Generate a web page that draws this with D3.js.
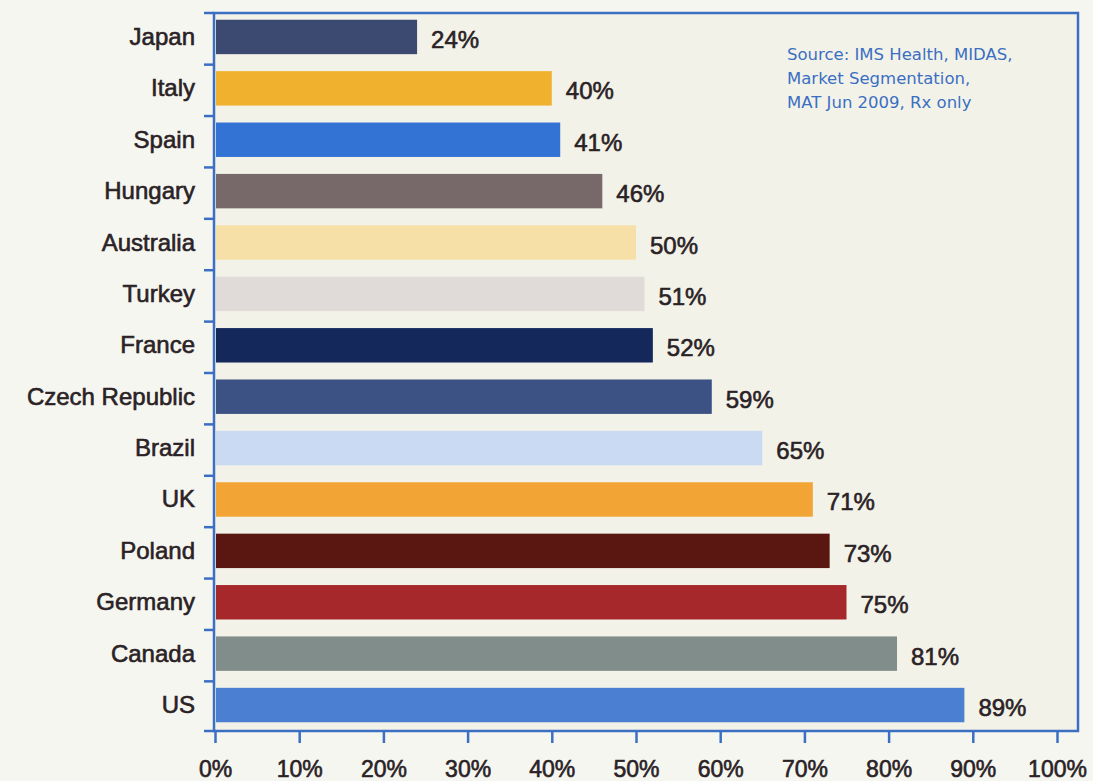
<!DOCTYPE html>
<html>
<head>
<meta charset="utf-8">
<script src="https://cdn.jsdelivr.net/npm/d3@7"></script>
<style>
  html, body { margin: 0; padding: 0; background: #f6f6f1; }
  svg { display: block; }
</style>
</head>
<body>
<svg id="chart" width="1093" height="781"></svg>
<script>
// ---- data ----
const countries = ["Japan","Italy","Spain","Hungary","Australia","Turkey","France",
  "Czech Republic","Brazil","UK","Poland","Germany","Canada","US"];
const values = [24,40,41,46,50,51,52,59,65,71,73,75,81,89];
const barColors = ["#3c4a72","#f0b22e","#3273d3","#77696a","#f6e0a8","#e0dbd8","#14285c",
  "#3c5285","#c9daf2","#f2a535","#5a1712","#a6282b","#808d8b","#4a7fd2"];
const xTicks = [0,10,20,30,40,50,60,70,80,90,100];
const sourceLines = ["Source: IMS Health, MIDAS,","Market Segmentation,","MAT Jun 2009, Rx only"];

// ---- layout ----
const svg = d3.select("#chart");
const frame = {left: 214, right: 1078, top: 13, bottom: 731};
const x = d3.scaleLinear().domain([0, 100]).range([215, 1057]);
const y = d3.scaleBand().domain(countries).range([11, 731]).paddingInner(0.33).paddingOuter(0.17);
const textColor = "#2a2225";
const blue = "#3c6fc4";
const labelFont = "'Liberation Sans', Arial, sans-serif";

function boldish(sel) {
  sel.attr("stroke", textColor).attr("stroke-width", 0.6).attr("paint-order", "stroke");
}

// plot background
svg.append("rect")
  .attr("x", frame.left).attr("y", frame.top)
  .attr("width", frame.right - frame.left).attr("height", frame.bottom - frame.top)
  .attr("fill", "#f3f2e9");

// bars
svg.append("g").selectAll("rect").data(countries).join("rect")
  .attr("x", x(0) + 1)
  .attr("y", d => y(d))
  .attr("width", (d, i) => x(values[i]) - x(0) - 1)
  .attr("height", y.bandwidth())
  .attr("fill", (d, i) => barColors[i]);

// value labels
svg.append("g").selectAll("text").data(countries).join("text")
  .attr("x", (d, i) => x(values[i]) + 14)
  .attr("y", d => y(d) + y.bandwidth() / 2 + 11)
  .attr("font-family", labelFont)
  .attr("font-size", 24)
  .attr("fill", textColor)
  .call(boldish)
  .text((d, i) => values[i] + "%");

// frame
svg.append("rect")
  .attr("x", frame.left).attr("y", frame.top)
  .attr("width", frame.right - frame.left).attr("height", frame.bottom - frame.top)
  .attr("fill", "none").attr("stroke", blue).attr("stroke-width", 2.5);

// left ticks (band boundaries)
const step = y.step();
const boundaries = countries.map(d => y(d) - step * y.paddingInner() / 2 + 2);
boundaries[0] = frame.top;
boundaries.push(frame.bottom);
svg.append("g").selectAll("line").data(boundaries).join("line")
  .attr("x1", 204).attr("x2", frame.left)
  .attr("y1", d => d).attr("y2", d => d)
  .attr("stroke", blue).attr("stroke-width", 2.5);

// country labels
svg.append("g").selectAll("text").data(countries).join("text")
  .attr("x", 195)
  .attr("y", d => y(d) + y.bandwidth() / 2 + 8)
  .attr("text-anchor", "end")
  .attr("font-family", labelFont)
  .attr("font-size", 24)
  .attr("fill", textColor)
  .call(boldish)
  .text(d => d);

// x axis ticks & labels
const xAxis = svg.append("g").attr("transform", `translate(0,${frame.bottom})`)
  .call(d3.axisBottom(x).tickValues(xTicks).tickSize(12).tickFormat(d => d + "%"));
xAxis.select(".domain").remove();
xAxis.selectAll(".tick line").attr("stroke", blue).attr("stroke-width", 2.5);
xAxis.selectAll(".tick text")
  .attr("y", 0).attr("dy", 0)
  .attr("transform", "translate(0,46)")
  .attr("font-family", labelFont)
  .attr("font-size", 23)
  .attr("fill", textColor)
  .call(boldish);

// source note
svg.append("g").selectAll("text").data(sourceLines).join("text")
  .attr("x", 787)
  .attr("y", (d, i) => 60 + i * 24)
  .attr("font-family", "'DejaVu Sans', sans-serif")
  .attr("font-size", 16.5)
  .attr("fill", "#3a6fc2")
  .text(d => d);
</script>
</body>
</html>
